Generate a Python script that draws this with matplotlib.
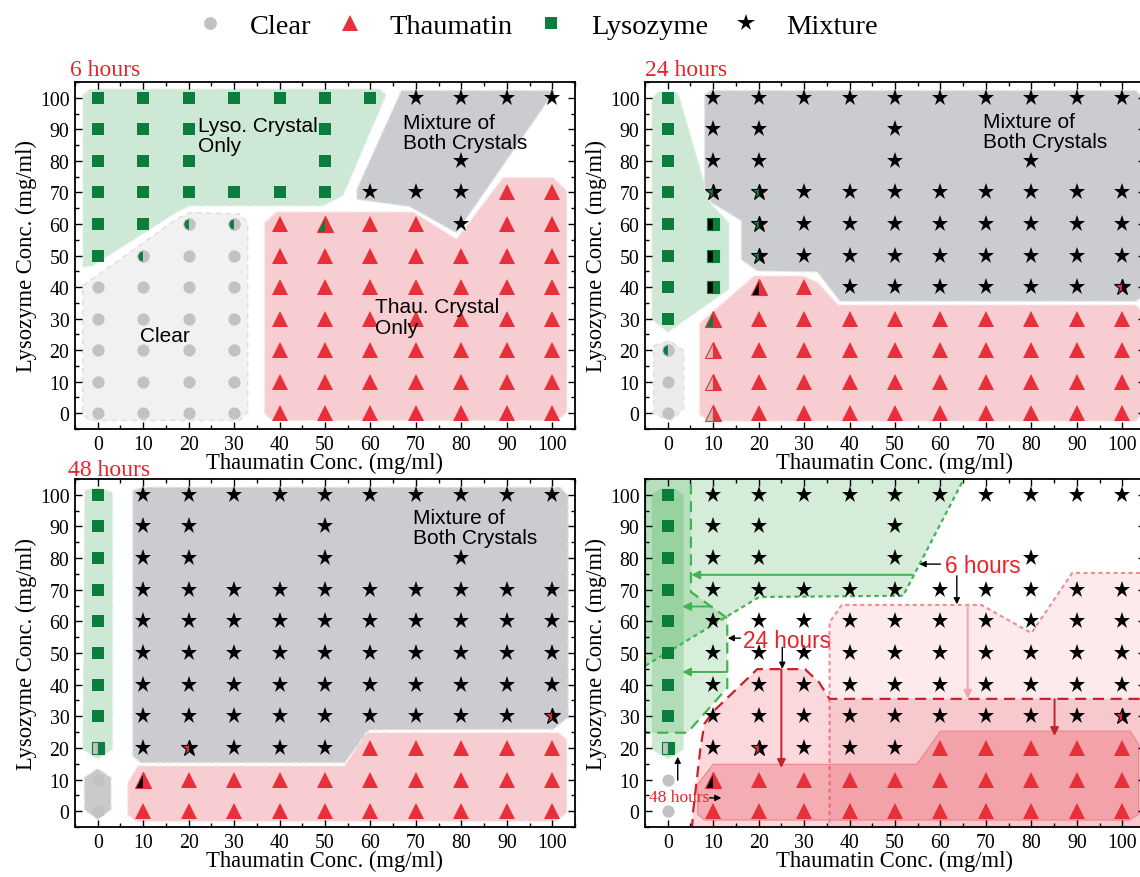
import matplotlib
matplotlib.use('Agg')
import matplotlib.pyplot as plt
from matplotlib.patches import Polygon
from matplotlib.lines import Line2D
from matplotlib.ticker import MultipleLocator

SERIF = ['Liberation Serif', 'DejaVu Serif']
SANS = ['Liberation Sans', 'DejaVu Sans']
plt.rcParams['font.family'] = SERIF

# ---------------- data ----------------
thaumatin = [0, 10, 20, 30, 40, 50, 60, 70, 80, 90, 100]
lysozyme_rows = [100, 90, 80, 70, 60, 50, 40, 30, 20, 10, 0]
categories = ['Clear', 'Thaumatin', 'Lysozyme', 'Mixture']
codes = ['C', 'T', 'L', 'M']
# cell codes: C clear, T thaumatin, L lysozyme, M mixture, '.' none,
# two letters = half marker (left colour, right colour/shape)
grid_6h = [
    "L  L  L  L  L  L  L  M  M  M  M",
    "L  L  L  .  .  L  .  .  .  .  .",
    "L  L  L  .  .  L  .  .  M  .  .",
    "L  L  L  L  L  L  M  M  M  T  T",
    "L  L  LC LC T  LT T  T  M  T  T",
    "L  LC C  C  T  T  T  T  T  T  T",
    "C  C  C  C  T  T  T  T  T  T  T",
    "C  C  C  C  T  T  T  T  T  T  T",
    "C  C  C  C  T  T  T  T  T  T  T",
    "C  C  C  C  T  T  T  T  T  T  T",
    "C  C  C  C  T  T  T  T  T  T  T",
]
grid_24h = [
    "L  M  M  M  M  M  M  M  M  M  M",
    "L  M  M  .  .  M  .  .  .  .  .",
    "L  M  M  .  .  M  .  .  M  .  .",
    "L  LM LM M  M  M  M  M  M  M  M",
    "L  ML LM M  M  M  M  M  M  M  M",
    "L  ML LM M  M  M  M  M  M  M  M",
    "L  ML MT T  M  M  M  M  M  M  TM",
    "L  LT T  T  T  T  T  T  T  T  T",
    "LC CT T  T  T  T  T  T  T  T  T",
    "C  CT T  T  T  T  T  T  T  T  T",
    "C  CT T  T  T  T  T  T  T  T  T",
]
grid_48h = [
    "L  M  M  M  M  M  M  M  M  M  M",
    "L  M  M  .  .  M  .  .  .  .  .",
    "L  M  M  .  .  M  .  .  M  .  .",
    "L  M  M  M  M  M  M  M  M  M  M",
    "L  M  M  M  M  M  M  M  M  M  M",
    "L  M  M  M  M  M  M  M  M  M  M",
    "L  M  M  M  M  M  M  M  M  M  M",
    "L  M  M  M  M  M  M  M  M  M  TM",
    "CL M  TM M  M  M  T  T  T  T  T",
    "C  MT T  T  T  T  T  T  T  T  T",
    "C  T  T  T  T  T  T  T  T  T  T",
]

# region outlines (data coordinates)
lyso_6h = [(-3.3, 101), (-1.8, 102.8), (62, 102.8), (63.5, 101), (54, 69), (49.6, 65.7),
           (20.2, 65.7), (17.3, 63.6), (-1.1, 46.7), (-3.3, 46.2)]
mix_6h = [(66.8, 102.3), (100.6, 102.3), (78.9, 57.2), (68.6, 65.5), (57, 67.8), (57, 71)]
thau_6h = [(36.7, 60.4), (39.3, 63.8), (69.4, 63.8), (78.9, 55.2), (89.2, 74.7), (100.2, 74.7),
           (103.2, 70.5), (103.2, 0.3), (101, -2.3), (38.5, -2.3), (36.7, -0.2)]
clear_6h = [(-3.3, 40.4), (17.3, 61.5), (20.2, 63.6), (31.2, 63.2), (33, 60.4), (33, 0.3),
            (31.2, -2.3), (-1.8, -2.3), (-3.3, -0.2)]

lyso_24h = [(-3.5, 100), (-1.9, 102.1), (2.3, 101.6), (9.3, 66.8), (13.5, 60.4), (13.5, 39.3),
            (0, 25.6), (-3.5, 29.9)]
mix_24h = [(8.1, 71), (8.1, 101), (9.5, 102.3), (103, 102.3), (104.5, 100), (104.5, 37),
           (103, 35.5), (37.9, 35.5), (32.9, 44.8), (19.7, 45.1), (16.2, 48.7), (16.2, 61), (9.6, 66.8)]
thau_24h = [(7, 28.5), (9.3, 31.4), (19, 43.5), (29.8, 43.5), (33, 41.5), (37.5, 34.3), (103, 34.3),
            (104.5, 32), (104.5, 0), (103, -2.5), (9.3, -2.5), (7, -0.5)]
clear_24h = [(-3.1, 21.4), (0.4, 23), (3.5, 19.8), (3.5, 1.4), (0.8, -2.3), (-3.1, -0.2)]

lyso_48h = [(-2.9, 101.4), (0, 102.4), (3.3, 100.8), (3.3, 19.5), (0, 16.4), (-3.3, 19.5)]
clear_48h = [(-2.9, 10.6), (0, 13.4), (2.9, 10.6), (2.9, 0.5), (0, -2.6), (-2.9, 0.5)]
mix_48h = [(7.7, 101.4), (9.9, 102.4), (101.7, 102.4), (103.5, 99.8), (103.5, 29.6), (100.2, 25.9),
           (59.8, 25.7), (54.3, 15.3), (9.5, 15.3), (7.7, 17.4)]
thau_48h = [(6.6, 9), (8.8, 14.3), (54.3, 14.3), (59.1, 24.8), (101.3, 24.8), (103.2, 22.7),
            (103.2, -0.5), (101, -3.2), (8.4, -3.2), (6.6, -1.1)]

# combined panel boundaries
g_6h = [(-5, 106), (65.5, 106), (51.8, 68.1), (20.1, 67.7), (-5, 45.9)]
g_24h = [(-5, 106), (5.1, 106), (5.1, 69.3), (13.1, 61), (13.1, 39), (4.3, 24.8), (-5, 24.8)]
g_48h = [(-3.5, 100), (-1.5, 102), (1.5, 102), (3.5, 100), (3.5, 19.5), (0, 16.5), (-3.5, 19.5)]
r_6h = [(35.6, -6), (35.6, 59.7), (38.3, 65.2), (69, 65.2), (80, 56.3), (89, 75.3), (107, 75.3), (107, -6)]
r_24h = [(5.3, -6), (5.6, 0), (6.4, 10), (7.2, 20), (8.1, 27.7), (10, 31.5), (19.7, 44.9), (30.2, 44.9),
         (33.3, 40.7), (35.6, 35.5), (107, 35.5), (107, -6)]
r_48h = [(6.6, 8.5), (10, 14.8), (54.8, 14.8), (60, 25.3), (101.8, 25.3), (103.6, 21), (103.6, -1),
         (101.5, -2.8), (8.1, -2.8), (6.6, -1)]

# ---------------- style ----------------
SHAPE = {'C': 'o', 'T': '^', 'L': 's', 'M': '*'}
COLOR = {'C': '#c2c2c4', 'T': '#e8303a', 'L': '#0b7d3c', 'M': '#000000'}
SIZE = {'C': 8.8, 'T': 11.5, 'L': 8.6, 'M': 12.5}
RED = '#e8232a'

W, H = 1140, 878
fig = plt.figure(figsize=(W / 100, H / 100), dpi=100)


def add_axes(l, t, r, b):
    return fig.add_axes([l / W, 1 - b / H, (r - l) / W, (b - t) / H])


ax_tl = add_axes(75, 83, 575, 430)
ax_tr = add_axes(645, 83, 1145, 430)
ax_bl = add_axes(75, 480, 575, 828)
ax_br = add_axes(645, 480, 1145, 828)


def style(ax):
    ax.set_xlim(-5, 105)
    ax.set_ylim(-5, 105)
    ax.set_xticks(thaumatin)
    ax.set_yticks(lysozyme_rows)
    ax.xaxis.set_minor_locator(MultipleLocator(5))
    ax.yaxis.set_minor_locator(MultipleLocator(5))
    ax.tick_params(which='both', direction='in', top=True, right=True, labelsize=14.3,
                   width=1.0, pad=4)
    ax.tick_params(which='major', length=5)
    ax.tick_params(which='minor', length=3)
    for s in ax.spines.values():
        s.set_linewidth(1.3)
    ax.set_xlabel('Thaumatin Conc. (mg/ml)', fontsize=16.3, labelpad=-1)
    ax.set_ylabel('Lysozyme Conc. (mg/ml)', fontsize=16.3, labelpad=2)


def region(ax, pts, fc, ec, z=1, ls=(0, (4, 3)), lw=1.0):
    ax.add_patch(Polygon(pts, closed=True, facecolor=fc, edgecolor=ec, lw=lw,
                         linestyle=ls, zorder=z))


def draw_markers(ax, grid):
    for row, yv in zip(grid, lysozyme_rows):
        for tok, xv in zip(row.split(), thaumatin):
            if tok == '.':
                continue
            if len(tok) == 1:
                ax.plot([xv], [yv], ls='none', marker=SHAPE[tok], ms=SIZE[tok],
                        color=COLOR[tok], mew=0, zorder=4)
            else:
                a, b = tok[0], tok[1]
                ax.plot([xv], [yv], ls='none', marker=SHAPE[b], ms=SIZE[b] - 0.6,
                        fillstyle='left', markerfacecolor=COLOR[a],
                        markerfacecoloralt=COLOR[b], markeredgecolor=COLOR[b],
                        mew=0.8, zorder=4)


def label(ax, x, y, s, **kw):
    ax.text(x, y, s, fontsize=15, family=SANS, va='center', ha='left',
            linespacing=1.1, zorder=6, **kw)


GREEN_F, GREEN_E = '#cde8d4', '#eaf5ec'
GRAY_F, GRAY_E = '#cbcccf', '#e6e6e8'
RED_F, RED_E = '#f7cdd1', '#fbe6e8'
CLEAR_F, CLEAR_E = '#f1f1f1', '#dedede'

# ---- 6 hours ----
ax = ax_tl
style(ax)
region(ax, lyso_6h, GREEN_F, GREEN_E)
region(ax, mix_6h, GRAY_F, GRAY_E)
region(ax, thau_6h, RED_F, RED_E)
region(ax, clear_6h, CLEAR_F, CLEAR_E)
draw_markers(ax, grid_6h)
label(ax, 22, 88, 'Lyso. Crystal\nOnly')
label(ax, 67.2, 89, 'Mixture of\nBoth Crystals')
label(ax, 9.4, 24.6, 'Clear')
label(ax, 60.9, 30.5, 'Thau. Crystal\nOnly')
ax.text(-0.01, 1.006, '6 hours', transform=ax.transAxes, color=RED, fontsize=17,
        va='bottom', ha='left')

# ---- 24 hours ----
ax = ax_tr
style(ax)
region(ax, lyso_24h, GREEN_F, GREEN_E)
region(ax, mix_24h, GRAY_F, GRAY_E)
region(ax, thau_24h, RED_F, RED_E)
region(ax, clear_24h, '#ececec', CLEAR_E)
draw_markers(ax, grid_24h)
label(ax, 69.4, 89.3, 'Mixture of\nBoth Crystals')
ax.text(0.0, 1.006, '24 hours', transform=ax.transAxes, color=RED, fontsize=17,
        va='bottom', ha='left')

# ---- 48 hours ----
ax = ax_bl
style(ax)
region(ax, lyso_48h, GREEN_F, GREEN_E)
region(ax, clear_48h, '#cacacc', '#dcdcdc')
region(ax, mix_48h, GRAY_F, GRAY_E)
region(ax, thau_48h, RED_F, RED_E)
draw_markers(ax, grid_48h)
label(ax, 69.4, 89.6, 'Mixture of\nBoth Crystals')
ax.text(-0.014, 0.998, '48 hours', transform=ax.transAxes, color=RED, fontsize=17,
        va='bottom', ha='left')

# ---- combined ----
ax = ax_br
style(ax)
GC = '#43b351'
region(ax, g_6h, (0.30, 0.70, 0.36, 0.24), GC, z=1, ls=(0, (2, 1.6)), lw=1.6)
region(ax, g_24h, (0.30, 0.70, 0.36, 0.22), GC, z=1.1, ls=(0, (5, 3)), lw=1.6)
region(ax, g_48h, (0.30, 0.70, 0.36, 0.28), 'none', z=1.2, ls='-', lw=0)
region(ax, r_6h, (0.93, 0.35, 0.40, 0.12), '#f08c95', z=1, ls=(0, (2, 1.6)), lw=1.5)
region(ax, r_24h, (0.90, 0.25, 0.30, 0.20), '#cf2028', z=1.1, ls=(0, (5, 3)), lw=1.6)
region(ax, r_48h, (0.90, 0.25, 0.30, 0.28), '#ee8a92', z=1.2, ls='-', lw=0.9)
draw_markers(ax, grid_48h)


def arrow(ax, start, end, color, lw=1.4, ms=12):
    ax.annotate('', xy=end, xytext=start,
                arrowprops=dict(arrowstyle='-|>', color=color, lw=lw, mutation_scale=ms,
                                shrinkA=0, shrinkB=0), zorder=5)


arrow(ax, (53.8, 74.7), (5.2, 74.7), GC)
arrow(ax, (9.5, 64.7), (3.2, 64.7), GC)
arrow(ax, (13.1, 44.0), (3.2, 44.0), GC)
arrow(ax, (25.0, 44.9), (25.0, 13.7), '#c8202a')
arrow(ax, (85.1, 35.4), (85.1, 23.8), '#c8202a')
arrow(ax, (66.0, 64.9), (66.0, 35.6), '#f4a3ab')
arrow(ax, (60.0, 78.1), (55.4, 78.1), 'black', lw=1.0, ms=9)
arrow(ax, (63.6, 74.4), (63.6, 65.4), 'black', lw=1.0, ms=9)
arrow(ax, (16.0, 54.7), (13.2, 54.7), 'black', lw=1.0, ms=9)
arrow(ax, (25.2, 51.8), (25.2, 45.0), 'black', lw=1.0, ms=9)
arrow(ax, (9.2, 4.2), (11.8, 4.2), 'black', lw=1.0, ms=9)
arrow(ax, (2.2, 9.8), (2.2, 17.2), 'black', lw=1.0, ms=9)
ax.text(61.1, 77.8, '6 hours', fontsize=16.3, family=SANS, color=RED, va='center',
        ha='left', zorder=6)
ax.text(16.6, 53.9, '24 hours', fontsize=16.3, family=SANS, color=RED, va='center',
        ha='left', zorder=6)
ax.text(2.4, 4.6, '48 hours', fontsize=12.5, color=RED, va='center', ha='center', zorder=6)

# ---- legend ----
handles = [Line2D([], [], ls='none', marker=SHAPE[c], ms=SIZE[c] * 1.05, color=COLOR[c], mew=0)
           for c in codes]
fig.legend(handles, categories, loc='center', bbox_to_anchor=(537 / W, 1 - 27 / H),
           ncol=4, frameon=False, fontsize=20.5, handlelength=1.0, handletextpad=0.9,
           columnspacing=0.84, borderpad=0)

fig.savefig('out.png', dpi=100)
